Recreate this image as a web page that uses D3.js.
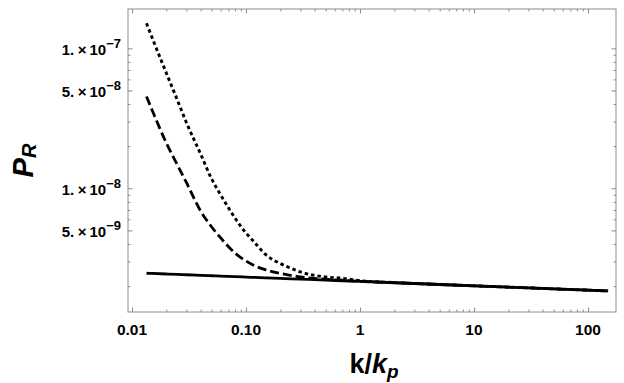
<!DOCTYPE html>
<html>
<head>
<meta charset="utf-8">
<script src="https://d3js.org/d3.v7.min.js"></script>
<style>
  body { margin: 0; background: #fff; }
  text { font-family: "Liberation Sans", Arial, Helvetica, sans-serif; font-weight: bold; fill: #000; }
</style>
</head>
<body>
<script>
// data: k/kp grid and the three spectra
const kValues = [0.0134, 0.015, 0.02, 0.025, 0.03, 0.04, 0.05, 0.06, 0.08, 0.1, 0.12, 0.15,
                 0.2, 0.25, 0.3, 0.4, 0.5, 0.7, 1, 2, 5, 10, 20, 50, 100, 150];
const solidP = [2.471e-9, 2.462e-9, 2.440e-9, 2.423e-9, 2.410e-9, 2.388e-9, 2.371e-9, 2.358e-9,
                2.337e-9, 2.320e-9, 2.307e-9, 2.291e-9, 2.271e-9, 2.255e-9, 2.242e-9, 2.222e-9,
                2.207e-9, 2.184e-9, 2.160e-9, 2.113e-9, 2.054e-9, 2.010e-9, 1.966e-9, 1.911e-9,
                1.870e-9, 1.847e-9];
const dashedP = [4.525e-8, 3.624e-8, 2.107e-8, 1.47e-8, 1.100e-8, 6.88e-9, 5.29e-9, 4.42e-9,
                 3.45e-9, 3.024e-9, 2.786e-9, 2.608e-9, 2.462e-9, 2.383e-9, 2.325e-9, 2.269e-9,
                 2.239e-9, 2.202e-9, 2.165e-9, 2.115e-9, 2.054e-9, 2.010e-9, 1.966e-9, 1.911e-9,
                 1.870e-9, 1.847e-9];
const dottedP = [1.509e-7, 1.194e-7, 6.66e-8, 4.27e-8, 2.95e-8, 1.758e-8, 1.165e-8, 8.96e-9,
                 6.14e-9, 4.79e-9, 4.07e-9, 3.34e-9, 2.90e-9, 2.675e-9, 2.524e-9, 2.383e-9,
                 2.325e-9, 2.276e-9, 2.190e-9, 2.120e-9, 2.054e-9, 2.010e-9, 1.966e-9, 1.911e-9,
                 1.870e-9, 1.847e-9];

// tick labels
const xTicks = [0.01, 0.1, 1, 10, 100];
const xTickLabels = ["0.01", "0.10", "1", "10", "100"];
const yTicks = [1e-7, 5e-8, 1e-8, 5e-9];
const yTickMantissa = ["1.", "5.", "1.", "5."];
const yTickExponent = ["\u22127", "\u22128", "\u22128", "\u22129"];

const svg = d3.select("body").append("svg")
    .attr("width", 624)
    .attr("height", 383);

const plotL = 128, plotR = 616, plotT = 9, plotB = 312;

const x = d3.scaleLog()
    .domain([Math.pow(10, -2.035), Math.pow(10, 2.2456)])
    .range([plotL, plotR]);
const y = d3.scaleLog()
    .domain([Math.pow(10, -8.884), Math.pow(10, -6.719)])
    .range([plotB, plotT]);

// minor tick values (2..9 per decade) within the domain
function minorTicks(scale, lo, hi) {
  const out = [];
  const [d0, d1] = scale.domain();
  for (let e = lo; e <= hi; e++) {
    for (let m = 2; m <= 9; m++) {
      const v = m * Math.pow(10, e);
      if (v >= d0 && v <= d1) out.push(v);
    }
  }
  return out;
}
const xMinor = minorTicks(x, -3, 2);
const yMajor = [1e-8, 1e-7, 5e-8, 5e-9];
const yMinor = minorTicks(y, -10, -7).filter(v => !yMajor.some(t => Math.abs(t - v) / t < 1e-6));

const frameColor = "#8c8c8c";

// axes: ticks drawn inward on all four sides
function ticks(axisFn, scale, vals, size, transform) {
  const g = svg.append("g")
      .attr("transform", transform)
      .call(axisFn(scale).tickValues(vals).tickSize(size).tickFormat(""));
  g.select(".domain").remove();
  g.selectAll("line").attr("stroke", frameColor).attr("stroke-width", 1);
}
ticks(d3.axisBottom, x, xTicks, -4.5, `translate(0,${plotB})`);
ticks(d3.axisBottom, x, xMinor, -2.5, `translate(0,${plotB})`);
ticks(d3.axisTop, x, xTicks, -4.5, `translate(0,${plotT})`);
ticks(d3.axisTop, x, xMinor, -2.5, `translate(0,${plotT})`);
ticks(d3.axisLeft, y, yMajor, -4.5, `translate(${plotL},0)`);
ticks(d3.axisLeft, y, yMinor, -2.5, `translate(${plotL},0)`);
ticks(d3.axisRight, y, yMajor, -4.5, `translate(${plotR},0)`);
ticks(d3.axisRight, y, yMinor, -2.5, `translate(${plotR},0)`);

// frame
svg.append("rect")
    .attr("x", plotL).attr("y", plotT)
    .attr("width", plotR - plotL).attr("height", plotB - plotT)
    .attr("fill", "none")
    .attr("stroke", frameColor)
    .attr("stroke-width", 1);

// curves
const series = [
  { values: solidP, dash: null, width: 2.8 },
  { values: dashedP, dash: "9,4", width: 2.8 },
  { values: dottedP, dash: "3.5,3", width: 2.9 }
];
const line = d3.line()
    .x(d => x(d[0]))
    .y(d => y(d[1]))
    .curve(d3.curveMonotoneX);

series.forEach(s => {
  svg.append("path")
      .datum(kValues.map((k, i) => [k, s.values[i]]))
      .attr("fill", "none")
      .attr("stroke", "#000")
      .attr("stroke-width", s.width)
      .attr("stroke-dasharray", s.dash)
      .attr("d", line);
});

// x tick labels
svg.append("g").selectAll("text")
    .data(xTicks)
    .join("text")
    .attr("x", d => x(d))
    .attr("y", 335)
    .attr("text-anchor", "middle")
    .attr("font-size", 15.5)
    .text((d, i) => xTickLabels[i]);

// y tick labels with superscript exponents
yTicks.forEach((v, i) => {
  const t = svg.append("text")
      .attr("x", 121)
      .attr("y", y(v) + 6.5)
      .attr("text-anchor", "end")
      .attr("font-size", 15);
  t.append("tspan").text(yTickMantissa[i]);
  t.append("tspan").attr("dx", 3.5).text("\u00d7");
  t.append("tspan").attr("dx", 3).text("10");
  t.append("tspan").attr("dy", -7).attr("font-size", 13).text(yTickExponent[i]);
});

// axis titles
const xt = svg.append("text")
    .attr("x", (plotL + plotR) / 2 + 2)
    .attr("y", 373)
    .attr("text-anchor", "middle")
    .attr("font-size", 27);
xt.append("tspan").text("k/");
xt.append("tspan").attr("font-style", "italic").text("k");
xt.append("tspan").attr("font-style", "italic").attr("font-size", 19).attr("dy", 5).text("p");

const yt = svg.append("text")
    .attr("transform", `translate(33,${(plotT + plotB) / 2}) rotate(-90)`)
    .attr("text-anchor", "middle")
    .attr("font-size", 29)
    .attr("font-style", "italic");
yt.append("tspan").text("P");
yt.append("tspan").attr("font-size", 20).attr("dy", 3).text("R");
</script>
</body>
</html>
